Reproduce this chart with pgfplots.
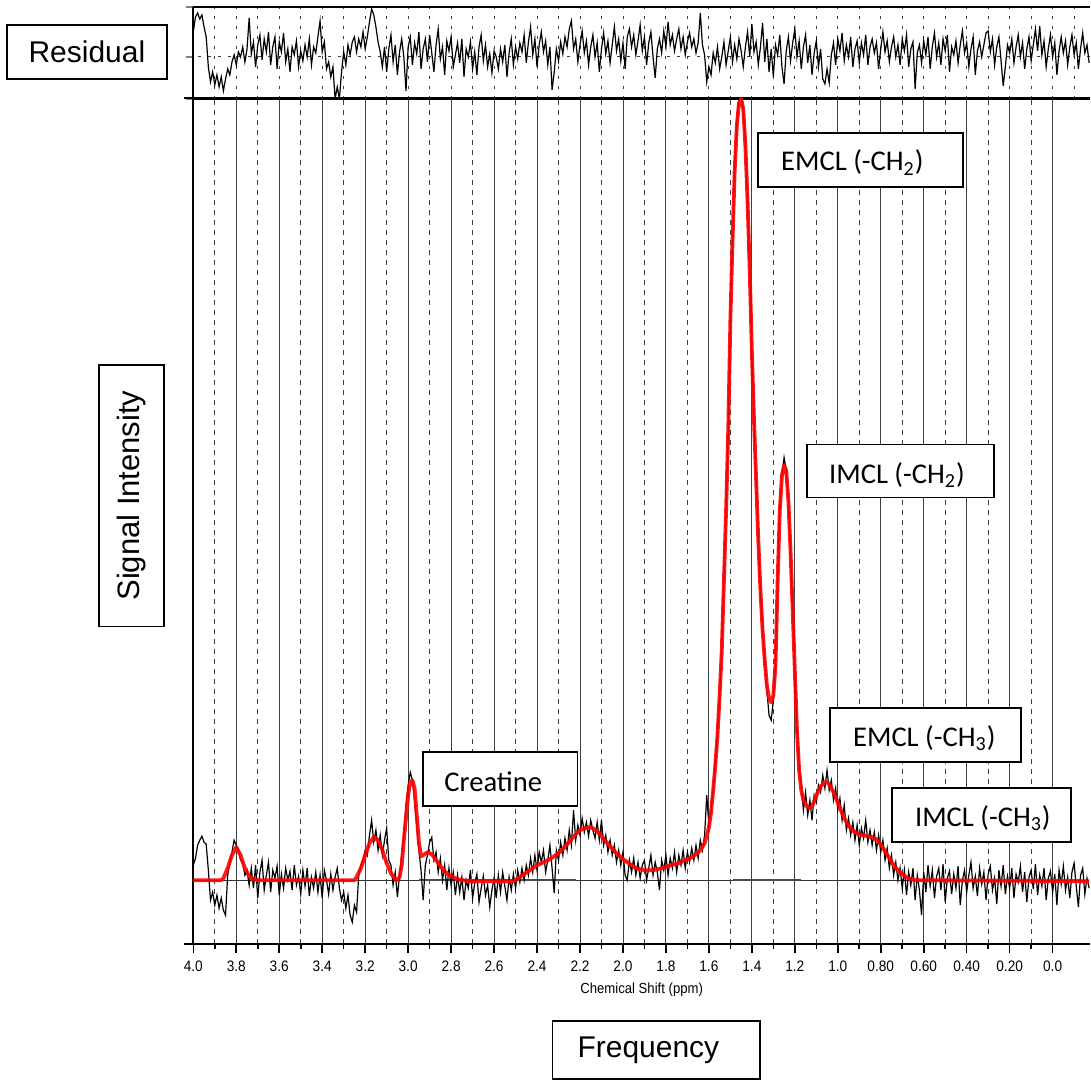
\documentclass[border=0pt]{standalone}
\usepackage{fontspec}
\usepackage{pgfplots}
\pgfplotsset{compat=1.18}
\setmainfont{Liberation Sans}
\newfontfamily\narrowfont[FakeStretch=0.9]{Liberation Sans}
\newfontfamily\calibri{Carlito}
\begin{document}
\begin{tikzpicture}
\begin{scope}[x=0.5pt,y=0.5pt]
\useasboundingbox (0,0) rectangle (1091,1080);
\end{scope}
% ---------------- residual panel ----------------
\begin{axis}[at={(96.75pt,491pt)}, anchor=south west, scale only axis,
  width=448.75pt, height=46pt,
  xmin=-0.174, xmax=4.0, x dir=reverse, ymin=-42, ymax=50,
  axis x line*=box, axis y line*=left,
  axis line style={line width=1pt},
  xtick distance=0.1, xticklabels={}, xtick style={draw=none},
  ytick={-42,0,50}, yticklabels={}, ytick pos=left,
  tick align=outside, major tick length=3.5pt,
  ytick style={line width=0.8pt},
  xmajorgrids, ymajorgrids,
  major grid style={black!75, line width=0.45pt, dash pattern=on 1.5pt off 3.5pt},
  clip=true]
\addplot[black, line width=0.6pt] coordinates {
(4.00,25)(3.99,40)(3.98,44)(3.97,38)(3.96,42)(3.95,30)(3.94,20)(3.93,-10)(3.92,-25)(3.91,-15)
(3.90,-28)(3.89,-18)(3.88,-30)(3.87,-20)(3.86,-34)(3.85,-22)(3.84,-12)(3.83,-18)(3.82,-5)(3.81,2)
(3.80,-8)(3.79,5)(3.78,0)(3.77,10)(3.76,-5)(3.75,8)(3.74,39)(3.73,3)(3.72,15)(3.71,-10)
(3.70,12)(3.69,22)(3.68,-3)(3.67,18)(3.66,5)(3.65,25)(3.64,-8)(3.63,10)(3.62,20)(3.61,-12)
(3.60,15)(3.59,5)(3.58,24)(3.57,-5)(3.56,8)(3.55,-15)(3.54,10)(3.53,2)(3.52,16)(3.51,-10)
(3.50,6)(3.49,-4)(3.48,12)(3.47,0)(3.46,18)(3.45,-8)(3.44,10)(3.43,4)(3.42,20)(3.41,36)
(3.40,5)(3.39,15)(3.38,-12)(3.37,-5)(3.36,-20)(3.35,-10)(3.34,-42)(3.33,-30)(3.32,-42)(3.31,-15)
(3.30,5)(3.29,-8)(3.28,12)(3.27,2)(3.26,15)(3.25,20)(3.24,5)(3.23,18)(3.22,10)(3.21,25)
(3.20,8)(3.19,20)(3.18,35)(3.17,48)(3.16,42)(3.15,30)(3.14,15)(3.13,5)(3.12,-10)(3.11,10)
(3.10,-15)(3.09,8)(3.08,22)(3.07,-5)(3.06,12)(3.05,-18)(3.04,5)(3.03,18)(3.02,0)(3.01,-34)
(3.00,10)(2.99,20)(2.98,-8)(2.97,14)(2.96,3)(2.95,25)(2.94,-12)(2.93,8)(2.92,18)(2.91,-5)
(2.90,22)(2.89,4)(2.88,-15)(2.87,12)(2.86,28)(2.85,-2)(2.84,10)(2.83,-18)(2.82,16)(2.81,6)
(2.80,20)(2.79,-10)(2.78,2)(2.77,14)(2.76,-6)(2.75,18)(2.74,-20)(2.73,8)(2.72,0)(2.71,15)
(2.70,-12)(2.69,5)(2.68,-18)(2.67,10)(2.66,22)(2.65,-4)(2.64,12)(2.63,-10)(2.62,3)(2.61,-16)
(2.60,6)(2.59,0)(2.58,-12)(2.57,8)(2.56,-5)(2.55,12)(2.54,-20)(2.53,4)(2.52,18)(2.51,-8)
(2.50,10)(2.49,-2)(2.48,14)(2.47,5)(2.46,22)(2.45,-6)(2.44,15)(2.43,30)(2.42,2)(2.41,18)
(2.40,-10)(2.39,12)(2.38,25)(2.37,5)(2.36,16)(2.35,-8)(2.34,10)(2.33,-33)(2.32,-15)(2.31,8)
(2.30,-4)(2.29,15)(2.28,3)(2.27,20)(2.26,10)(2.25,28)(2.24,36)(2.23,8)(2.22,18)(2.21,-5)
(2.20,12)(2.19,26)(2.18,4)(2.17,16)(2.16,-8)(2.15,10)(2.14,22)(2.13,0)(2.12,14)(2.11,-15)
(2.10,8)(2.09,24)(2.08,3)(2.07,16)(2.06,-6)(2.05,12)(2.04,30)(2.03,6)(2.02,18)(2.01,-4)
(2.00,14)(1.99,-12)(1.98,20)(1.97,28)(1.96,10)(1.95,22)(1.94,2)(1.93,16)(1.92,32)(1.91,6)
(1.90,20)(1.89,-8)(1.88,14)(1.87,25)(1.86,0)(1.85,-21)(1.84,8)(1.83,18)(1.82,4)(1.81,26)
(1.80,10)(1.79,35)(1.78,12)(1.77,22)(1.76,6)(1.75,18)(1.74,28)(1.73,8)(1.72,20)(1.71,2)
(1.70,15)(1.69,24)(1.68,10)(1.67,18)(1.66,4)(1.65,14)(1.64,44)(1.63,12)(1.62,2)(1.61,-25)
(1.60,-10)(1.59,-18)(1.58,4)(1.57,-6)(1.56,10)(1.55,-12)(1.54,0)(1.53,15)(1.52,-8)(1.51,6)
(1.50,20)(1.49,-5)(1.48,12)(1.47,-2)(1.46,18)(1.45,6)(1.44,-10)(1.43,10)(1.42,25)(1.41,0)
(1.40,33)(1.39,5)(1.38,15)(1.37,-8)(1.36,10)(1.35,34)(1.34,-5)(1.33,18)(1.32,-15)(1.31,8)
(1.30,-20)(1.29,12)(1.28,2)(1.27,22)(1.26,-10)(1.25,-27)(1.24,6)(1.23,20)(1.22,-4)(1.21,14)
(1.20,28)(1.19,0)(1.18,16)(1.17,-12)(1.16,10)(1.15,22)(1.14,-6)(1.13,12)(1.12,-18)(1.11,4)
(1.10,16)(1.09,-10)(1.08,8)(1.07,-22)(1.06,-27)(1.05,-12)(1.04,-26)(1.03,2)(1.02,14)(1.01,-8)
(1.00,18)(0.99,6)(0.98,24)(0.97,-4)(0.96,12)(0.95,0)(0.94,20)(0.93,-10)(0.92,8)(0.91,16)
(0.90,-6)(0.89,14)(0.88,2)(0.87,22)(0.86,-8)(0.85,10)(0.84,18)(0.83,4)(0.82,14)(0.81,-12)
(0.80,8)(0.79,25)(0.78,5)(0.77,16)(0.76,-5)(0.75,10)(0.74,20)(0.73,0)(0.72,12)(0.71,-8)
(0.70,18)(0.69,6)(0.68,22)(0.67,-10)(0.66,8)(0.65,15)(0.64,-32)(0.63,4)(0.62,12)(0.61,-6)
(0.60,16)(0.59,2)(0.58,20)(0.57,-12)(0.56,10)(0.55,24)(0.54,0)(0.53,14)(0.52,-8)(0.51,18)
(0.50,6)(0.49,22)(0.48,-15)(0.47,10)(0.46,2)(0.45,16)(0.44,-6)(0.43,12)(0.42,26)(0.41,4)
(0.40,14)(0.39,-10)(0.38,8)(0.37,20)(0.36,-18)(0.35,6)(0.34,15)(0.33,0)(0.32,12)(0.31,24)
(0.30,26)(0.29,5)(0.28,18)(0.27,-8)(0.26,10)(0.25,20)(0.24,-4)(0.23,-29)(0.22,-10)(0.21,12)
(0.20,4)(0.19,18)(0.18,-6)(0.17,10)(0.16,22)(0.15,0)(0.14,14)(0.13,-12)(0.12,8)(0.11,20)
(0.10,-4)(0.09,12)(0.08,28)(0.07,6)(0.06,31)(0.05,2)(0.04,16)(0.03,-10)(0.02,8)(0.01,22)
(0.00,0)(-0.01,14)(-0.02,-18)(-0.03,6)(-0.04,20)(-0.05,4)(-0.06,16)(-0.07,-8)(-0.08,10)(-0.09,22)
(-0.10,2)(-0.11,14)(-0.12,-12)(-0.13,8)(-0.14,24)(-0.15,4)(-0.16,12)(-0.17,-6)
};
\end{axis}
% ---------------- main spectrum ----------------
\begin{axis}[at={(96.75pt,68pt)}, anchor=south west, scale only axis,
  width=448.75pt, height=423.5pt,
  xmin=-0.174, xmax=4.0, x dir=reverse, ymin=-64, ymax=783,
  axis x line*=box, axis y line*=left,
  axis line style={line width=1pt},
  xtick={0,0.2,0.4,0.6,0.8,1.0,1.2,1.4,1.6,1.8,2.0,2.2,2.4,2.6,2.8,3.0,3.2,3.4,3.6,3.8,4.0},
  xticklabels={0.0,0.20,0.40,0.60,0.80,1.0,1.2,1.4,1.6,1.8,2.0,2.2,2.4,2.6,2.8,3.0,3.2,3.4,3.6,3.8,4.0},
  minor x tick num=1,
  xtick pos=left, ytick pos=left,
  ytick={-64,783}, yticklabels={},
  tick align=outside, major tick length=4.5pt, minor tick length=2.5pt,
  tick style={line width=0.8pt, black},
  xmajorgrids, xminorgrids,
  major grid style={black!75, line width=0.45pt, solid},
  minor grid style={black!75, line width=0.45pt, dash pattern=on 2.5pt off 2.5pt},
  xticklabel style={font=\narrowfont\fontsize{7.6}{8}\selectfont, text=black, yshift=-0.5pt},
  xlabel={Chemical Shift (ppm)},
  xlabel style={font=\narrowfont\fontsize{7.3}{8}\selectfont, at={(axis description cs:0.5,0)}, anchor=center, yshift=-23pt},
  clip=true]
% baseline
\addplot[black!80, line width=0.45pt] coordinates {(4.0,0) (-0.17,0)};
\addplot[black!70, line width=0.9pt] coordinates {(2.95,0) (2.22,0)};
\addplot[black!70, line width=0.9pt] coordinates {(1.49,0) (1.17,0)};
% measured spectrum
\addplot[black, line width=0.6pt] coordinates {
(4.00,15)(3.99,22)(3.98,35)(3.97,40)(3.96,44)(3.95,38)(3.94,36)(3.93,10)(3.92,-20)(3.91,-12)
(3.90,-25)(3.89,-15)(3.88,-28)(3.87,-18)(3.86,-30)(3.85,-35)(3.84,5)(3.83,18)(3.82,28)(3.81,40)
(3.80,35)(3.79,30)(3.78,20)(3.77,18)(3.76,5)(3.75,10)(3.74,-5)(3.73,12)(3.72,-8)(3.71,15)
(3.70,-18)(3.69,8)(3.68,20)(3.67,-10)(3.66,5)(3.65,18)(3.64,-12)(3.63,10)(3.62,2)(3.61,14)
(3.60,-15)(3.59,6)(3.58,-8)(3.57,12)(3.56,0)(3.55,9)(3.54,-10)(3.53,15)(3.52,-5)(3.51,4)
(3.50,-14)(3.49,10)(3.48,-6)(3.47,12)(3.46,-16)(3.45,3)(3.44,-8)(3.43,8)(3.42,-12)(3.41,5)
(3.40,-18)(3.39,10)(3.38,0)(3.37,-14)(3.36,6)(3.35,-10)(3.34,3)(3.33,12)(3.32,-8)(3.31,-20)
(3.30,-12)(3.29,-28)(3.28,-15)(3.27,-35)(3.26,-42)(3.25,-25)(3.24,-32)(3.23,5)(3.22,15)(3.21,20)
(3.20,30)(3.19,25)(3.18,45)(3.17,60)(3.16,38)(3.15,50)(3.14,30)(3.13,45)(3.12,25)(3.11,40)
(3.10,52)(3.09,20)(3.08,15)(3.07,-5)(3.06,8)(3.05,-17)(3.04,5)(3.03,25)(3.02,45)(3.01,75)
(3.00,95)(2.99,108)(2.98,100)(2.97,80)(2.96,55)(2.95,30)(2.94,10)(2.93,-20)(2.92,15)(2.91,25)
(2.90,38)(2.89,43)(2.88,20)(2.87,28)(2.86,8)(2.85,22)(2.84,0)(2.83,15)(2.82,-10)(2.81,12)
(2.80,-5)(2.79,8)(2.78,-15)(2.77,5)(2.76,-12)(2.75,3)(2.74,-20)(2.73,0)(2.72,-8)(2.71,10)
(2.70,-18)(2.69,-3)(2.68,6)(2.67,-22)(2.66,-8)(2.65,4)(2.64,-15)(2.63,-5)(2.62,-27)(2.61,-10)
(2.60,2)(2.59,-18)(2.58,5)(2.57,-12)(2.56,8)(2.55,-6)(2.54,-20)(2.53,3)(2.52,-10)(2.51,6)
(2.50,-8)(2.49,10)(2.48,-2)(2.47,12)(2.46,0)(2.45,15)(2.44,5)(2.43,22)(2.42,8)(2.41,25)
(2.40,10)(2.39,28)(2.38,18)(2.37,30)(2.36,8)(2.35,20)(2.34,35)(2.33,12)(2.32,-13)(2.31,30)
(2.30,20)(2.29,38)(2.28,25)(2.27,42)(2.26,30)(2.25,50)(2.24,35)(2.23,70)(2.22,40)(2.21,55)
(2.20,45)(2.19,62)(2.18,48)(2.17,58)(2.16,44)(2.15,60)(2.14,50)(2.13,42)(2.12,58)(2.11,40)
(2.10,60)(2.09,35)(2.08,45)(2.07,28)(2.06,40)(2.05,25)(2.04,35)(2.03,18)(2.02,30)(2.01,15)
(2.00,28)(1.99,5)(1.98,0)(1.97,20)(1.96,8)(1.95,22)(1.94,5)(1.93,18)(1.92,2)(1.91,15)
(1.90,20)(1.89,0)(1.88,12)(1.87,25)(1.86,5)(1.85,18)(1.84,8)(1.83,-10)(1.82,20)(1.81,10)
(1.80,25)(1.79,5)(1.78,22)(1.77,12)(1.76,28)(1.75,8)(1.74,25)(1.73,15)(1.72,30)(1.71,12)
(1.70,28)(1.69,18)(1.68,32)(1.67,20)(1.66,35)(1.65,22)(1.64,40)(1.63,30)(1.62,45)(1.61,85)
(1.60,55)(1.59,70)(1.58,92)(1.57,118)(1.56,148)(1.55,182)(1.54,235)(1.53,298)(1.52,372)(1.51,448)
(1.50,565)(1.49,638)(1.48,712)(1.47,758)(1.46,783)(1.45,790)(1.44,770)(1.43,738)(1.42,676)(1.41,612)
(1.40,528)(1.39,462)(1.38,398)(1.37,342)(1.36,288)(1.35,252)(1.34,218)(1.33,190)(1.32,165)(1.31,160)
(1.30,180)(1.29,218)(1.28,300)(1.27,372)(1.26,405)(1.25,423)(1.24,410)(1.23,382)(1.22,328)(1.21,272)
(1.20,208)(1.19,152)(1.18,112)(1.17,95)(1.16,70)(1.15,88)(1.14,65)(1.13,80)(1.12,60)(1.11,85)
(1.10,78)(1.09,95)(1.08,88)(1.07,105)(1.06,92)(1.05,110)(1.04,90)(1.03,100)(1.02,80)(1.01,92)
(1.00,70)(0.99,82)(0.98,60)(0.97,75)(0.96,50)(0.95,62)(0.94,45)(0.93,58)(0.92,40)(0.91,55)
(0.90,35)(0.89,52)(0.88,42)(0.87,60)(0.86,38)(0.85,50)(0.84,35)(0.83,48)(0.82,30)(0.81,45)
(0.80,28)(0.79,40)(0.78,20)(0.77,32)(0.76,12)(0.75,25)(0.74,5)(0.73,18)(0.72,0)(0.71,12)
(0.70,-8)(0.69,10)(0.68,-15)(0.67,8)(0.66,-5)(0.65,12)(0.64,-20)(0.63,5)(0.62,-10)(0.61,-35)
(0.60,8)(0.59,-12)(0.58,15)(0.57,-6)(0.56,10)(0.55,-18)(0.54,4)(0.53,12)(0.52,-10)(0.51,16)
(0.50,-22)(0.49,2)(0.48,9)(0.47,-14)(0.46,6)(0.45,-8)(0.44,14)(0.43,-25)(0.42,0)(0.41,10)
(0.40,-12)(0.39,5)(0.38,18)(0.37,-8)(0.36,4)(0.35,-16)(0.34,12)(0.33,-4)(0.32,8)(0.31,-20)
(0.30,6)(0.29,14)(0.28,-10)(0.27,2)(0.26,-24)(0.25,10)(0.24,-6)(0.23,15)(0.22,-14)(0.21,4)
(0.20,-8)(0.19,12)(0.18,-18)(0.17,6)(0.16,-2)(0.15,14)(0.14,-12)(0.13,8)(0.12,-22)(0.11,3)
(0.10,10)(0.09,-9)(0.08,16)(0.07,-15)(0.06,5)(0.05,-6)(0.04,12)(0.03,-20)(0.02,2)(0.01,9)
(0.00,-12)(-0.01,6)(-0.02,-25)(-0.03,10)(-0.04,-4)(-0.05,14)(-0.06,-10)(-0.07,3)(-0.08,-18)(-0.09,8)
(-0.10,17)(-0.11,-6)(-0.12,-27)(-0.13,5)(-0.14,12)(-0.15,-14)(-0.16,2)(-0.17,-8)
};
% fitted model
\addplot[red, line width=1.9pt, opacity=0.9, line join=round] coordinates {
(4.00,0)(3.87,0)(3.86,2)(3.84,12)(3.82,25)(3.80,33)(3.78,25)(3.76,12)(3.74,4)(3.72,1)(3.70,0)
(3.25,0)(3.24,3)(3.22,12)(3.20,25)(3.18,37)(3.16,43)(3.14,40)(3.12,30)(3.10,17)(3.08,7)(3.06,1)(3.05,0)
(3.04,3)(3.03,15)(3.02,40)(3.00,85)(2.99,98)(2.98,100)(2.97,92)(2.96,65)(2.95,38)(2.94,24)(2.93,25)
(2.91,28)(2.89,26)(2.87,20)(2.85,14)(2.83,9)(2.81,5)(2.79,3)(2.77,1)(2.75,0)(2.70,-1)(2.52,-1)(2.50,0)
(2.48,3)(2.46,6)(2.44,9)(2.42,12)(2.40,15)(2.38,17)(2.36,19)(2.34,21)(2.32,24)(2.30,27)(2.28,31)
(2.26,36)(2.24,41)(2.22,46)(2.20,50)(2.18,52)(2.16,53)(2.14,52)(2.12,49)(2.10,44)(2.08,39)(2.06,34)
(2.04,29)(2.02,25)(2.00,21)(1.98,18)(1.96,15)(1.94,12)(1.92,11)(1.90,10)(1.86,10)(1.84,11)(1.82,12)
(1.80,13)(1.78,15)(1.76,16)(1.74,17)(1.72,19)(1.70,21)(1.68,23)(1.66,26)(1.64,30)(1.62,37)(1.61,44)
(1.60,53)(1.59,68)(1.58,90)(1.57,115)(1.56,145)(1.55,185)(1.54,230)(1.53,300)(1.52,370)(1.51,450)
(1.50,560)(1.49,640)(1.48,710)(1.47,755)(1.46,778)(1.45,782)(1.44,772)(1.43,735)(1.42,680)(1.41,610)
(1.40,530)(1.39,460)(1.38,400)(1.37,340)(1.36,290)(1.35,250)(1.34,220)(1.33,195)(1.32,182)(1.31,178)
(1.30,185)(1.29,215)(1.28,300)(1.27,370)(1.26,405)(1.25,415)(1.24,410)(1.23,380)(1.22,330)(1.21,270)
(1.20,210)(1.19,150)(1.18,110)(1.17,90)(1.16,80)(1.15,76)(1.14,73)(1.13,72)(1.12,74)(1.11,79)(1.10,85)
(1.08,94)(1.06,98)(1.05,98)(1.04,96)(1.02,88)(1.00,78)(0.98,67)(0.96,58)(0.94,52)(0.92,48)(0.90,46)
(0.88,45)(0.86,44)(0.84,43)(0.82,41)(0.80,36)(0.78,29)(0.76,22)(0.74,15)(0.72,10)(0.70,6)(0.68,3)
(0.66,1)(0.64,0)(-0.17,-1)
};
\end{axis}
% ---------------- annotation boxes ----------------
\begin{scope}[x=0.5pt,y=0.5pt,line width=0.9pt]
\draw[fill=white] (7,1056) rectangle (167,1002);
\node[font=\fontsize{15}{18}\selectfont] at (87,1029) {Residual};
\draw[fill=white] (99,716) rectangle (164,454);
\node[font=\fontsize{15.5}{18}\selectfont, rotate=90] at (131.5,585) {Signal Intensity};
\draw[fill=white] (553,59) rectangle (761,1);
\node[font=\fontsize{15}{18}\selectfont] at (649,30) {Frequency};
\draw[fill=white] (423,328) rectangle (578,274);
\node[font=\calibri\fontsize{14.3}{17}\selectfont, anchor=base west, inner sep=0pt] at (444,289) {Creatine};
\draw[fill=white] (759,948) rectangle (964,894);
\node[font=\calibri\fontsize{14.3}{17}\selectfont, anchor=base west, inner sep=0pt] at (781,910) {EMCL (-CH\textsubscript{2})};
\draw[fill=white] (808,636) rectangle (995,583);
\node[font=\calibri\fontsize{14.3}{17}\selectfont, anchor=base west, inner sep=0pt] at (829,597) {IMCL (-CH\textsubscript{2})};
\draw[fill=white] (831,372) rectangle (1022,318);
\node[font=\calibri\fontsize{14.3}{17}\selectfont, anchor=base west, inner sep=0pt] at (853,334) {EMCL (-CH\textsubscript{3})};
\draw[fill=white] (893,292) rectangle (1072,238);
\node[font=\calibri\fontsize{14.3}{17}\selectfont, anchor=base west, inner sep=0pt] at (915,254) {IMCL (-CH\textsubscript{3})};
\end{scope}
\end{tikzpicture}
\end{document}
